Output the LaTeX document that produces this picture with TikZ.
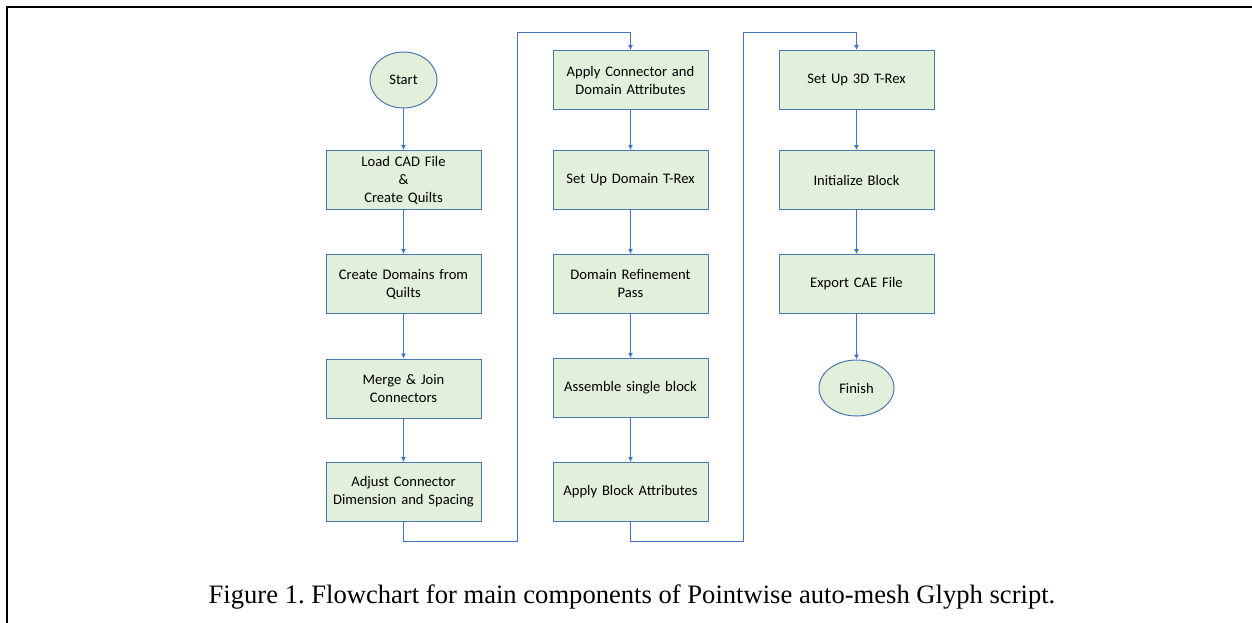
\documentclass[tikz,border=0pt]{standalone}
\usepackage{fontspec}
\setmainfont{Liberation Serif}
\newfontfamily\boxfont{Carlito}
\usetikzlibrary{positioning, shapes.geometric, arrows.meta}
\frenchspacing

\definecolor{boxfill}{HTML}{E2EFDA}
\definecolor{boxline}{HTML}{4A77B0}
\definecolor{flowline}{HTML}{4472C4}

\tikzset{
    stepbox/.style={draw=boxline, line width=1pt, fill=boxfill, minimum width=155pt,
        minimum height=59pt, inner sep=2pt, align=center, text width=150pt,
        font=\boxfont\fontsize{14.6}{18}\selectfont},
    terminal/.style={ellipse, draw=boxline, line width=1pt, fill=boxfill,
        minimum width=67pt, minimum height=56pt, inner sep=0pt,
        font=\boxfont\fontsize{14.6}{18}\selectfont},
    flow/.style={draw=flowline, line width=0.8pt, -{Latex[length=5pt,width=5pt]}},
}

\begin{document}
\begin{tikzpicture}[x=1pt,y=-1pt]
    \useasboundingbox (0,0) rectangle (1252,623);
    \draw[line width=1.4pt] (7,623) -- (7,7) -- (1252,7);

    % first column
    \node[terminal] (start) at (403.5,80) {Start};
    \node[stepbox] (load) at (403.5,180) {Load CAD File\\\&\\Create Quilts};
    \node[stepbox] (domains) at (403.5,284) {Create Domains from\\Quilts};
    \node[stepbox] (merge) at (403.5,388.5) {Merge \& Join\\Connectors};
    \node[stepbox] (adjust) at (403.5,492) {Adjust Connector\\Dimension and Spacing};

    % second column
    \node[stepbox] (conattr) at (630.5,80) {Apply Connector and\\Domain Attributes};
    \node[stepbox] (domtrex) at (630.5,180) {Set Up Domain T-Rex};
    \node[stepbox] (refine) at (630.5,284) {Domain Refinement\\Pass};
    \node[stepbox] (assemble) at (630.5,388) {Assemble single block};
    \node[stepbox] (blkattr) at (630.5,492) {Apply Block Attributes};

    % third column
    \node[stepbox] (trex3d) at (856.5,80) {Set Up 3D T-Rex};
    \node[stepbox] (init) at (856.5,180) {Initialize Block};
    \node[stepbox] (export) at (856.5,284) {Export CAE File};
    \node[terminal, minimum width=75pt] (finish) at (856.5,388) {Finish};

    \coordinate (jump1a) at (517.5,541);
    \coordinate (jump1b) at (517.5,32);
    \coordinate (jump2a) at (743.5,541);
    \coordinate (jump2b) at (743.5,32);

    \draw[flow] (start) -- (load);
    \draw[flow] (load) -- (domains);
    \draw[flow] (domains) -- (merge);
    \draw[flow] (merge) -- (adjust);
    \draw[flow] (adjust.south) |- (jump1a) -- (jump1b) -| (conattr.north);
    \draw[flow] (conattr) -- (domtrex);
    \draw[flow] (domtrex) -- (refine);
    \draw[flow] (refine) -- (assemble);
    \draw[flow] (assemble) -- (blkattr);
    \draw[flow] (blkattr.south) |- (jump2a) -- (jump2b) -| (trex3d.north);
    \draw[flow] (trex3d) -- (init);
    \draw[flow] (init) -- (export);
    \draw[flow] (export) -- (finish);

    \node[anchor=base, font=\fontsize{26.6}{30}\selectfont] (caption) at (632,603)
        {Figure 1. Flowchart for main components of Pointwise auto-mesh Glyph script.};
\end{tikzpicture}
\end{document}
